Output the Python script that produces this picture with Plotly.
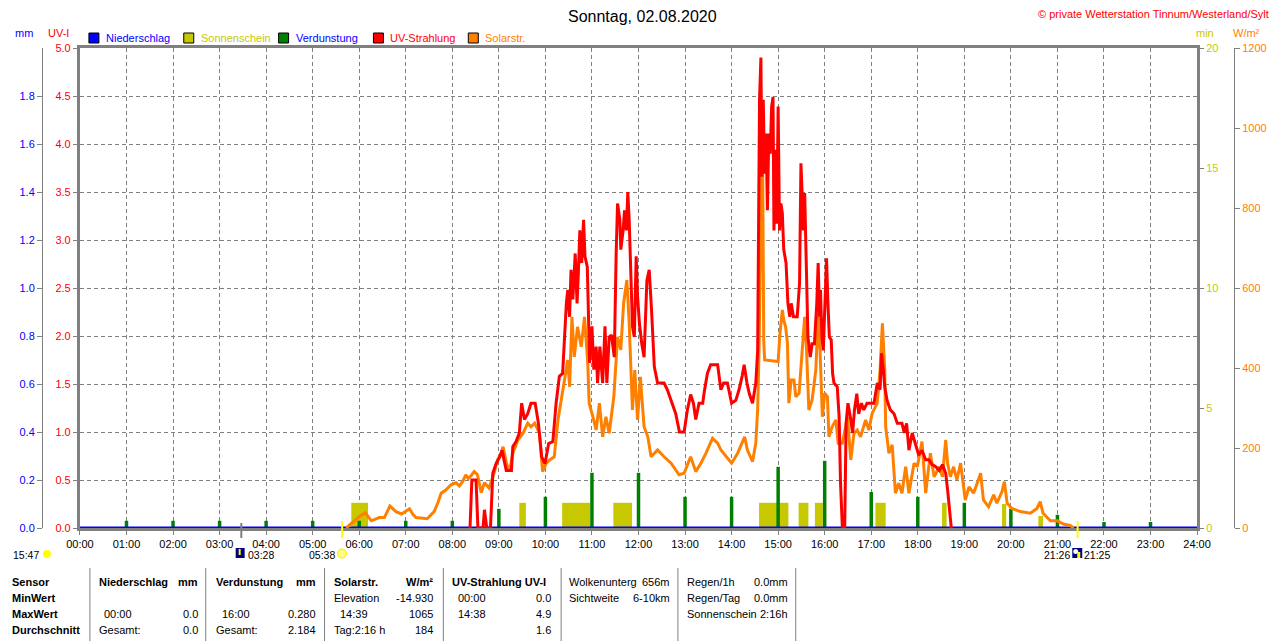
import plotly.graph_objects as go

# ---- data (time in hours) ----
hour_labels = ["00:00", "01:00", "02:00", "03:00", "04:00", "05:00", "06:00", "07:00",
               "08:00", "09:00", "10:00", "11:00", "12:00", "13:00", "14:00", "15:00",
               "16:00", "17:00", "18:00", "19:00", "20:00", "21:00", "22:00", "23:00", "24:00"]

# UV-Strahlung (UV-I)
uv_t = [8.38, 8.42, 8.51, 8.55, 8.66, 8.69, 8.74, 8.82, 8.87, 8.94,
        9.02, 9.07, 9.11, 9.16, 9.27, 9.30, 9.37, 9.44, 9.49, 9.55, 9.62, 9.69, 9.78, 9.85, 9.92, 9.99,
        10.07, 10.16, 10.23, 10.30, 10.37, 10.41, 10.45, 10.48, 10.52, 10.55, 10.59, 10.64, 10.68, 10.71,
        10.74, 10.78, 10.82, 10.85, 10.90, 10.95,
        11.00, 11.04, 11.09, 11.12, 11.17, 11.23, 11.28, 11.32, 11.37, 11.42, 11.48, 11.52, 11.55, 11.60,
        11.62, 11.67, 11.70, 11.74, 11.77, 11.80, 11.84, 11.87, 11.91, 11.95, 11.98,
        12.02, 12.07, 12.12, 12.18, 12.23, 12.28, 12.34, 12.41, 12.55, 12.62, 12.70, 12.80, 12.88, 12.98,
        13.05, 13.12, 13.18, 13.23, 13.30, 13.38, 13.41, 13.48, 13.55, 13.70, 13.77, 13.83, 13.91,
        14.00, 14.09, 14.16, 14.23, 14.27, 14.33, 14.38, 14.45, 14.52, 14.56, 14.58, 14.60, 14.63, 14.65,
        14.68, 14.71, 14.74, 14.77, 14.80, 14.83, 14.86, 14.89, 14.91, 14.95, 14.97,
        15.00, 15.03, 15.06, 15.09, 15.12, 15.17, 15.21, 15.25, 15.28, 15.33, 15.41, 15.46, 15.49, 15.52,
        15.54, 15.57, 15.61, 15.64, 15.69, 15.73, 15.78, 15.83, 15.86, 15.89, 15.91, 15.94, 15.97,
        16.01, 16.04, 16.07, 16.10, 16.14, 16.17, 16.20, 16.27, 16.31, 16.34, 16.38, 16.43, 16.46, 16.50,
        16.55, 16.60, 16.64, 16.69, 16.73, 16.79, 16.84, 16.91,
        17.06, 17.13, 17.19, 17.22, 17.26, 17.29, 17.34, 17.41, 17.49, 17.56, 17.66, 17.71, 17.76, 17.81,
        17.88, 17.95,
        18.02, 18.09, 18.17, 18.24, 18.31, 18.38, 18.46, 18.53, 18.60, 18.64, 18.69, 18.72]
uv_i = [0, 0.50, 0.50, 0, 0, 0.19, 0, 0, 0.57, 0.67,
        0.74, 0.81, 0.71, 0.60, 0.60, 0.85, 0.90, 0.99, 1.30, 1.13, 1.19, 1.30, 1.30, 1.09, 0.74, 0.67,
        0.88, 0.90, 1.30, 1.58, 1.61, 1.99, 2.34, 2.48, 2.20, 2.69, 2.38, 2.86, 2.34, 2.69,
        3.10, 2.76, 3.21, 2.83, 2.72, 1.72,
        2.10, 1.65, 1.89, 1.51, 1.89, 1.51, 2.10, 1.51, 1.99, 2.01, 1.78, 2.86, 3.38, 3.21,
        2.90, 3.10, 3.31, 3.10, 3.50, 3.21, 2.69, 2.10, 1.99, 2.83, 2.41,
        2.13, 1.92, 1.78, 2.58, 2.69, 2.27, 1.68, 1.51, 1.51, 1.44, 1.33, 1.19, 1.00, 1.00,
        1.23, 1.39, 1.30, 1.13, 1.30, 1.30, 1.41, 1.61, 1.70, 1.70, 1.44, 1.51, 1.51,
        1.30, 1.33, 1.44, 1.59, 1.70, 1.51, 1.40, 1.30, 1.51, 1.85, 2.90, 4.46, 4.90, 3.66,
        4.46, 3.69, 4.11, 3.31, 4.11, 3.90, 4.39, 4.49, 3.10, 3.94, 3.17,
        4.39, 3.10, 3.38, 3.28, 2.90, 2.76, 2.34, 2.20, 2.34, 2.20, 2.20, 2.55, 3.80, 3.42,
        3.10, 3.49, 2.76, 1.99, 1.78, 1.92, 1.92, 2.34, 2.76, 2.20, 2.48, 1.99, 1.85,
        2.41, 2.81, 2.34, 1.99, 1.96, 1.61, 1.51, 1.47, 1.16, 0.47, 0, 0, 1.09, 1.30,
        1.16, 0.99, 1.23, 1.40, 1.19, 1.30, 1.23, 1.30,
        1.30, 1.51, 1.44, 1.82, 1.65, 1.47, 1.33, 1.23, 1.19, 1.09, 1.09, 0.99, 1.09, 0.81,
        0.99, 0.88,
        0.76, 0.81, 0.71, 0.71, 0.66, 0.64, 0.60, 0.66, 0.57, 0.40, 0.19, 0]

# Solarstrahlung (W/m²)
sol_t = [5.72, 6.00, 6.13, 6.26, 6.43, 6.54, 6.66, 6.79, 6.91,
         7.08, 7.16, 7.22, 7.46, 7.61, 7.69, 7.76, 7.86, 7.97,
         8.08, 8.15, 8.22, 8.29, 8.34, 8.40, 8.47, 8.54, 8.62, 8.69, 8.79, 8.90, 8.97,
         9.05, 9.09, 9.16, 9.23, 9.30, 9.41, 9.52, 9.62, 9.69, 9.77, 9.87, 9.94,
         10.02, 10.09, 10.19, 10.27, 10.34, 10.41, 10.48, 10.52, 10.57, 10.62, 10.69, 10.77, 10.84, 10.91, 10.94,
         11.02, 11.09, 11.16, 11.23, 11.30, 11.37, 11.47, 11.55, 11.62, 11.68, 11.75, 11.80, 11.87, 11.92, 11.98,
         12.04, 12.12, 12.20, 12.27, 12.41, 12.55, 12.70, 12.87, 12.98,
         13.12, 13.23, 13.34, 13.45, 13.59, 13.70, 13.77, 13.86,
         14.00, 14.13, 14.23, 14.28, 14.34, 14.45, 14.52, 14.56, 14.59, 14.62, 14.64, 14.67, 14.69, 14.71,
         15.00, 15.04, 15.09, 15.12, 15.16, 15.20, 15.23, 15.28, 15.34, 15.38, 15.45, 15.52, 15.57, 15.61,
         15.66, 15.73, 15.81, 15.86, 15.90, 15.95,
         16.00, 16.06, 16.09, 16.16, 16.24, 16.29, 16.38, 16.49, 16.56, 16.63, 16.70, 16.77, 16.88, 16.95,
         17.02, 17.13, 17.19, 17.24, 17.29, 17.31, 17.38, 17.45, 17.52, 17.59, 17.66, 17.74, 17.81, 17.92, 17.99,
         18.09, 18.17, 18.27, 18.35, 18.46, 18.53, 18.60, 18.64, 18.70, 18.77, 18.84, 18.92,
         19.02, 19.10, 19.20, 19.35, 19.41, 19.52, 19.63, 19.70, 19.81, 19.86, 19.92,
         20.02, 20.20, 20.42, 20.56, 20.63, 20.69, 20.85,
         21.00, 21.13, 21.28, 21.35]
sol_w = [0, 28, 38, 18, 26, 26, 55, 41, 35,
         48, 33, 26, 23, 41, 63, 87, 95, 108,
         113, 105, 116, 133, 124, 130, 141, 133, 88, 113, 100, 138, 170,
         188, 203, 163, 141, 187, 220, 237, 262, 253, 262, 237, 141,
         162, 170, 178, 270, 320, 378, 420, 353, 528, 428, 503, 453, 528, 412, 312,
         278, 245, 312, 228, 278, 237, 328, 478, 445, 562, 620, 512, 295, 395, 270,
         378, 253, 228, 178, 195, 178, 162, 133, 137,
         178, 141, 162, 187, 224, 212, 195, 183,
         162, 187, 216, 228, 195, 166, 212, 295, 445, 695, 1065, 870, 470, 420,
         416, 487, 545, 520, 503, 462, 312, 370, 370, 328, 337, 445, 528, 445,
         295, 320, 395, 537, 445, 278,
         337, 328, 228, 253, 270, 212, 212, 278, 170, 237, 245, 228, 270, 245,
         287, 312, 395, 512, 395, 253, 187, 208, 87, 112, 87, 153, 87, 162, 153,
         216, 87, 187, 128, 153, 128, 220, 162, 128, 153, 120, 162,
         70, 103, 87, 137, 70, 53, 83, 62, 91, 116, 62,
         49, 41, 37, 49, 66, 37, 18,
         18, 10, 6, 0]

# Verdunstung (mm) per hour
verd_t = [1, 2, 3, 4, 5, 6, 7, 8, 9, 10, 11, 12, 13, 14, 15, 16, 17, 18, 19, 20, 21, 22, 23]
verd_mm = [0.03, 0.03, 0.03, 0.03, 0.03, 0.03, 0.03, 0.03, 0.08, 0.13, 0.23, 0.23,
           0.13, 0.13, 0.255, 0.28, 0.15, 0.13, 0.105, 0.08, 0.055, 0.025, 0.025]

# Sonnenschein (min), start/end of each block
sun_start = [5.83, 9.44, 10.36, 11.46, 14.59, 15.44, 15.79, 17.09, 18.52, 19.81, 20.59]
sun_end = [6.19, 9.58, 10.96, 11.86, 15.22, 15.65, 15.96, 17.31, 18.62, 19.90, 20.69]
sun_min = [1.05, 1.05, 1.05, 1.05, 1.05, 1.05, 1.05, 1.05, 1.05, 1.0, 0.5]

# Niederschlag (mm)
nied_t = [0, 24]
nied_mm = [0.0, 0.0]

assert len(uv_t) == len(uv_i) and len(sol_t) == len(sol_w)

# ---- page geometry (page pixels; the browser puts the figure at 8,8) ----
FONT = "Liberation Sans"
OFF = 8
W, H = 1280 - OFF, 641 - OFF
LEFT, RIGHT, TOP, BOTTOM = 40, 1234, 48, 528   # outer axes / plot area on the page
X0, X1 = 78, 1197                              # time axis on the page
PW = RIGHT - LEFT
PH = BOTTOM - TOP
GREY = "#808080"
BLUE, OLIVE, GREEN, RED, ORANGE = "#0000FF", "#C8C800", "#008000", "#FF0000", "#FF8000"


def px(x):
    return (x - LEFT) / PW


def py(y):
    return (BOTTOM - y) / PH


def tx(t):
    return px(X0 + t * (X1 - X0) / 24)


sun_mid = [(a + b) / 2 for a, b in zip(sun_start, sun_end)]
sun_wid = [b - a for a, b in zip(sun_start, sun_end)]

fig = go.Figure()
fig.add_trace(go.Bar(x=sun_mid, y=sun_min, width=sun_wid, marker_color=OLIVE,
                     marker_line_width=0, yaxis="y", name="Sonnenschein"))
fig.add_trace(go.Bar(x=verd_t, y=verd_mm, width=0.075, marker_color=GREEN,
                     marker_line_width=0, yaxis="y2", name="Verdunstung"))
fig.add_trace(go.Scatter(x=nied_t, y=nied_mm, mode="lines", line=dict(color=BLUE, width=3),
                         yaxis="y2", name="Niederschlag"))
fig.add_trace(go.Scatter(x=sol_t, y=sol_w, mode="lines", line=dict(color=ORANGE, width=3),
                         yaxis="y3", name="Solarstr."))
fig.add_trace(go.Scatter(x=uv_t, y=uv_i, mode="lines", line=dict(color=RED, width=3),
                         yaxis="y4", name="UV-Strahlung"))

tick_common = dict(ticks="outside", tickcolor=GREY, showgrid=False, zeroline=False)

fig.update_layout(
    width=W, height=H,
    margin=dict(l=LEFT - OFF, r=W - (RIGHT - OFF), t=TOP - OFF, b=H - (BOTTOM - OFF)),
    paper_bgcolor="white", plot_bgcolor="white", showlegend=False, barmode="overlay",
    font=dict(family=FONT, size=11, color="black"),
    xaxis=dict(domain=[px(X0), px(X1)], range=[0, 24], tickvals=list(range(25)), ticktext=hour_labels,
               showgrid=True, gridcolor=GREY, griddash="4px,3px", gridwidth=1,
               showline=True, linecolor=GREY, linewidth=3, mirror=True,
               ticks="outside", ticklen=4, tickcolor=GREY, zeroline=False,
               tickfont=dict(size=11, color="black")),
    yaxis=dict(range=[0, 20], tickvals=[0, 5, 10, 15, 20], side="right", anchor="x",
               showline=True, linecolor=GREY, linewidth=3, ticklen=4,
               tickfont=dict(color=OLIVE, size=11), **tick_common),
    yaxis2=dict(range=[0, 2], tickvals=[0, 0.2, 0.4, 0.6, 0.8, 1.0, 1.2, 1.4, 1.6, 1.8], tickformat=".1f",
                overlaying="y", side="left", anchor="free", position=0,
                showline=True, linecolor=GREY, linewidth=1, ticklen=5,
                tickfont=dict(color=BLUE, size=11), **tick_common),
    yaxis3=dict(range=[0, 1200], dtick=200, overlaying="y", side="right", anchor="free", position=1,
                showline=True, linecolor=GREY, linewidth=1, ticklen=5,
                tickfont=dict(color=ORANGE, size=11), **tick_common),
    yaxis4=dict(range=[0, 5], dtick=0.5, tickformat=".1f", overlaying="y", side="left", anchor="x",
                showline=True, linecolor=GREY, linewidth=3, ticks="outside", ticklen=4, tickcolor=GREY,
                showgrid=True, gridcolor=GREY, griddash="4px,3px", gridwidth=1, zeroline=False,
                tickfont=dict(color=RED, size=11)),
)

ann = []
shapes = []


def text(x, y, s, color="black", anchor="left", size=11):
    ann.append(dict(x=px(x), y=py(y), xref="paper", yref="paper", text=s, showarrow=False,
                    xanchor=anchor, yanchor="middle", font=dict(family=FONT, size=size, color=color)))


def box(x0, y0, x1, y1, fill, kind="rect", line=None):
    shapes.append(dict(type=kind, xref="paper", yref="paper", x0=px(x0), x1=px(x1),
                       y0=py(y1), y1=py(y0), fillcolor=fill, line=line or dict(width=0)))


def vline(x, y0, y1, color, width):
    shapes.append(dict(type="line", xref="paper", yref="paper", x0=x, x1=x,
                       y0=py(y1), y1=py(y0), line=dict(color=color, width=width)))


# title and copyright
text(642, 17, "Sonntag, 02.08.2020", anchor="center", size=16)
text(1271, 14, "© private Wetterstation Tinnum/Westerland/Sylt", color=RED, anchor="right")

# axis unit labels
text(22, 33, "mm", BLUE, "center")
text(57, 33, "UV-I", RED, "center")
text(1205, 33, "min", OLIVE, "center")
text(1247, 33, "W/m²", ORANGE, "center")

# legend
legend_items = [(87, BLUE, "Niederschlag", BLUE), (182, OLIVE, "Sonnenschein", OLIVE),
                (277, GREEN, "Verdunstung", BLUE), (372, RED, "UV-Strahlung", RED),
                (467, ORANGE, "Solarstr.", ORANGE)]
for bx, fill, label, tcol in legend_items:
    box(bx, 33, bx + 10, 43, fill, line=dict(color="black", width=1))
    text(bx + 15, 38, label, tcol)

# sun / moon markers under the time axis
for x, s in [(24, "15:47"), (259, "03:28"), (320, "05:38"), (1057, "21:26"), (1097, "21:25")]:
    text(x, 555, s, anchor="center", size=10.5)

box(41, 550, 49, 558, "#FFFF00", kind="circle")
vline(tx(3 + 28 / 60), 523, 538, GREY, 2)
vline(tx(5 + 38 / 60), 521, 538, "#FFFF00", 2)
vline(tx(21 + 26 / 60), 521, 538, "#FFFF00", 2)
box(234, 548, 243, 558, "#000080")
box(237, 549, 239, 555, "#FFFF00")
box(336, 549, 345, 558, "#FFFF80", kind="circle", line=dict(color="#FFE000", width=1))
box(1072, 548, 1082, 558, "#000080")
box(1073, 549, 1078, 554, "white", kind="circle")
box(1077, 552, 1080, 558, "#FFFF00")

# statistics table
for sx in [88, 204, 323, 442, 560, 677, 795]:
    vline(px(sx), 568, 641, GREY, 1)

table_items = [
    (8, 582, "<b>Sensor</b>", "left"), (8, 598, "<b>MinWert</b>", "left"),
    (8, 614, "<b>MaxWert</b>", "left"), (8, 630, "<b>Durchschnitt</b>", "left"),
    (95, 582, "<b>Niederschlag</b>", "left"), (198, 582, "<b>mm</b>", "right"),
    (100, 614, "00:00", "left"), (198, 614, "0.0", "right"),
    (95, 630, "Gesamt:", "left"), (198, 630, "0.0", "right"),
    (212, 582, "<b>Verdunstung</b>", "left"), (316, 582, "<b>mm</b>", "right"),
    (218, 614, "16:00", "left"), (316, 614, "0.280", "right"),
    (212, 630, "Gesamt:", "left"), (316, 630, "2.184", "right"),
    (330, 582, "<b>Solarstr.</b>", "left"), (434, 582, "<b>W/m²</b>", "right"),
    (330, 598, "Elevation", "left"), (434, 598, "-14.930", "right"),
    (336, 614, "14:39", "left"), (434, 614, "1065", "right"),
    (330, 630, "Tag:2:16 h", "left"), (434, 630, "184", "right"),
    (449, 582, "<b>UV-Strahlung UV-I</b>", "left"),
    (455, 598, "00:00", "left"), (552, 598, "0.0", "right"),
    (455, 614, "14:38", "left"), (552, 614, "4.9", "right"),
    (552, 630, "1.6", "right"),
    (566, 582, "Wolkenunterg", "left"), (671, 582, "656m", "right"),
    (566, 598, "Sichtweite", "left"), (671, 598, "6-10km", "right"),
    (684, 582, "Regen/1h", "left"), (789, 582, "0.0mm", "right"),
    (684, 598, "Regen/Tag", "left"), (789, 598, "0.0mm", "right"),
    (684, 614, "Sonnenschein", "left"), (789, 614, "2:16h", "right"),
]
for x, y, s, a in table_items:
    text(x, y, s, anchor=a)

fig.update_layout(annotations=ann, shapes=shapes)
fig.write_html("out.html")
